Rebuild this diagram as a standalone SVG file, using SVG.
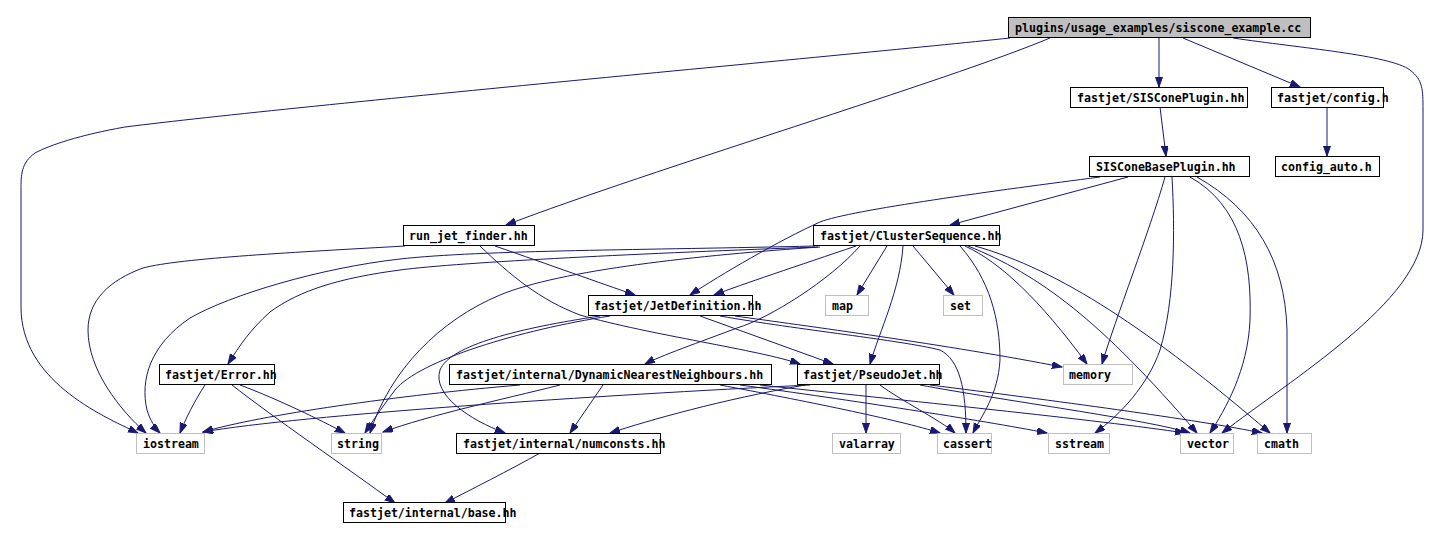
<svg xmlns="http://www.w3.org/2000/svg" width="1441" height="540" viewBox="0 0 1441 540">
<defs>
<marker id="ah" markerUnits="userSpaceOnUse" markerWidth="11" markerHeight="8" refX="10" refY="3.5" orient="auto" viewBox="0 0 11 8">
<path d="M0,0 L10,3.5 L0,7 z" fill="#191970" stroke="#191970"/>
</marker>
<style>
.e{fill:none;stroke:#191970;stroke-width:1;marker-end:url(#ah)}
.n rect{fill:#fff;stroke:#000;stroke-width:1}
.x rect{fill:#fff;stroke:#bfbfbf;stroke-width:1}
.r rect{fill:#bfbfbf;stroke:#000;stroke-width:1}
text{font-family:"DejaVu Sans Mono","Liberation Mono",monospace;font-size:11.6px;font-weight:bold;fill:#000}
</style>
</defs>
<rect width="1441" height="540" fill="#fff"/>
<g id="edges">
<path class="e" d="M1010,38 C850,55 300,105 125,127 C80,135 50,145 35,153 C21,163 21,175 21,190 L21,307 C21,380 100,415 138,433"/>
<path class="e" d="M1050,38 C950,80 650,170 506,225"/>
<path class="e" d="M1159,38 L1159,87"/>
<path class="e" d="M1183,38 L1300,87"/>
<path class="e" d="M1233,38 C1300,48 1390,55 1410,70 C1423,80 1423,90 1423,110 L1423,230 C1423,300 1290,380 1222,433"/>
<path class="e" d="M1160,107 L1166,156"/>
<path class="e" d="M1327,107 L1327,156"/>
<path class="e" d="M1128,177 L950,225"/>
<path class="e" d="M1100,177 C1000,190 850,210 820,222 C780,240 720,275 690,295"/>
<path class="e" d="M1165,177 C1150,230 1115,320 1102,364"/>
<path class="e" d="M1172,177 C1175,230 1175,300 1160,350 C1148,385 1120,415 1095,433"/>
<path class="e" d="M1190,177 C1240,205 1252,260 1250,320 C1248,370 1225,410 1210,433"/>
<path class="e" d="M1197,177 C1255,210 1285,260 1287,330 L1287,433"/>
<path class="e" d="M405,246 C300,252 180,258 143,268 C110,280 88,300 88,330 C88,370 120,410 146,433"/>
<path class="e" d="M495,246 C550,265 600,283 635,295"/>
<path class="e" d="M480,246 C510,275 540,300 580,315 C650,335 760,350 800,364"/>
<path class="e" d="M815,246 C650,250 480,250 400,259 C320,268 230,295 190,318 C150,345 140,380 147,410 C150,420 155,428 160,433"/>
<path class="e" d="M818,247 C650,253 460,262 400,270 C340,278 300,290 270,312 C250,330 240,345 228,364"/>
<path class="e" d="M820,247 C700,255 560,270 500,295 C440,320 390,370 370,433"/>
<path class="e" d="M856,246 C800,265 740,285 714,295"/>
<path class="e" d="M887,246 L857,295"/>
<path class="e" d="M913,246 L954,295"/>
<path class="e" d="M903,246 C900,290 880,330 870,364"/>
<path class="e" d="M860,246 C830,280 770,318 737,328 C700,342 660,356 645,364"/>
<path class="e" d="M965,246 C1000,262 1040,300 1087,364"/>
<path class="e" d="M968,246 C1040,275 1100,320 1197,433"/>
<path class="e" d="M975,246 C1060,270 1150,330 1270,433"/>
<path class="e" d="M960,246 C990,280 1000,320 1000,360 C998,395 982,415 973,433"/>
<path class="e" d="M700,316 L833,364"/>
<path class="e" d="M735,316 C800,325 950,345 1062,367"/>
<path class="e" d="M720,316 C800,330 900,340 940,350 C960,360 966,390 966,433"/>
<path class="e" d="M610,316 C520,330 420,360 395,390 C380,410 370,425 365,433"/>
<path class="e" d="M600,316 C520,328 450,345 440,370 C432,395 470,420 505,433"/>
<path class="e" d="M520,385 C400,395 260,415 203,432"/>
<path class="e" d="M560,385 C500,400 430,415 383,432"/>
<path class="e" d="M603,385 L570,433"/>
<path class="e" d="M720,385 C800,400 900,420 940,433"/>
<path class="e" d="M740,385 C850,400 980,420 1047,433"/>
<path class="e" d="M760,385 C900,400 1100,420 1185,433"/>
<path class="e" d="M810,385 C600,395 300,415 203,432"/>
<path class="e" d="M805,385 C720,400 650,420 610,433"/>
<path class="e" d="M866,385 L866,433"/>
<path class="e" d="M880,385 C900,400 940,420 955,433"/>
<path class="e" d="M920,385 C1000,400 1150,420 1190,433"/>
<path class="e" d="M930,385 C1050,400 1200,420 1262,433"/>
<path class="e" d="M205,385 C195,400 185,420 180,433"/>
<path class="e" d="M240,385 C280,400 320,420 345,433"/>
<path class="e" d="M232,385 C270,415 350,470 395,503"/>
<path class="e" d="M540,453 C510,470 470,490 445,503"/>
</g>
<g id="n_root" class="r"><rect x="1008.5" y="17.5" width="302" height="20"/><text x="1015" y="31.5">plugins/usage_examples/siscone_example.cc</text></g>
<g id="n_sisconeplugin" class="n"><rect x="1070.5" y="87.5" width="177" height="20"/><text x="1077" y="101.5">fastjet/SISConePlugin.hh</text></g>
<g id="n_config" class="n"><rect x="1271.5" y="87.5" width="112" height="20"/><text x="1277" y="101.5">fastjet/config.h</text></g>
<g id="n_sisconebase" class="n"><rect x="1089.5" y="156.5" width="160" height="20"/><text x="1096" y="170.5">SISConeBasePlugin.hh</text></g>
<g id="n_config_auto" class="n"><rect x="1275.5" y="156.5" width="104" height="20"/><text x="1281" y="170.5">config_auto.h</text></g>
<g id="n_run_jet_finder" class="n"><rect x="403.5" y="225.5" width="131" height="20"/><text x="409" y="239.5">run_jet_finder.hh</text></g>
<g id="n_clusterseq" class="n"><rect x="813.5" y="225.5" width="186" height="20"/><text x="820" y="239.5">fastjet/ClusterSequence.hh</text></g>
<g id="n_jetdef" class="n"><rect x="588.5" y="295.5" width="164" height="20"/><text x="594" y="309.5">fastjet/JetDefinition.hh</text></g>
<g id="n_map" class="x"><rect x="825.5" y="295.5" width="43" height="20"/><text x="832" y="309.5">map</text></g>
<g id="n_set" class="x"><rect x="943.5" y="295.5" width="39" height="20"/><text x="950" y="309.5">set</text></g>
<g id="n_error" class="n"><rect x="159.5" y="364.5" width="115" height="20"/><text x="165" y="378.5">fastjet/Error.hh</text></g>
<g id="n_dnn" class="n"><rect x="449.5" y="364.5" width="322" height="20"/><text x="456" y="378.5">fastjet/internal/DynamicNearestNeighbours.hh</text></g>
<g id="n_pseudojet" class="n"><rect x="797.5" y="364.5" width="142" height="20"/><text x="803" y="378.5">fastjet/PseudoJet.hh</text></g>
<g id="n_memory" class="x"><rect x="1063.5" y="364.5" width="69" height="20"/><text x="1069" y="378.5">memory</text></g>
<g id="n_iostream" class="x"><rect x="136.5" y="433.5" width="68" height="20"/><text x="143" y="447.5">iostream</text></g>
<g id="n_string" class="x"><rect x="331.5" y="433.5" width="50" height="20"/><text x="337" y="447.5">string</text></g>
<g id="n_numconsts" class="n"><rect x="456.5" y="433.5" width="204" height="20"/><text x="463" y="447.5">fastjet/internal/numconsts.hh</text></g>
<g id="n_valarray" class="x"><rect x="832.5" y="433.5" width="68" height="20"/><text x="839" y="447.5">valarray</text></g>
<g id="n_cassert" class="x"><rect x="937.5" y="433.5" width="54" height="20"/><text x="943" y="447.5">cassert</text></g>
<g id="n_sstream" class="x"><rect x="1048.5" y="433.5" width="61" height="20"/><text x="1055" y="447.5">sstream</text></g>
<g id="n_vector" class="x"><rect x="1180.5" y="433.5" width="53" height="20"/><text x="1187" y="447.5">vector</text></g>
<g id="n_cmath" class="x"><rect x="1257.5" y="433.5" width="54" height="20"/><text x="1264" y="447.5">cmath</text></g>
<g id="n_base" class="n"><rect x="343.5" y="502.5" width="162" height="20"/><text x="349" y="516.5">fastjet/internal/base.hh</text></g>
</svg>
